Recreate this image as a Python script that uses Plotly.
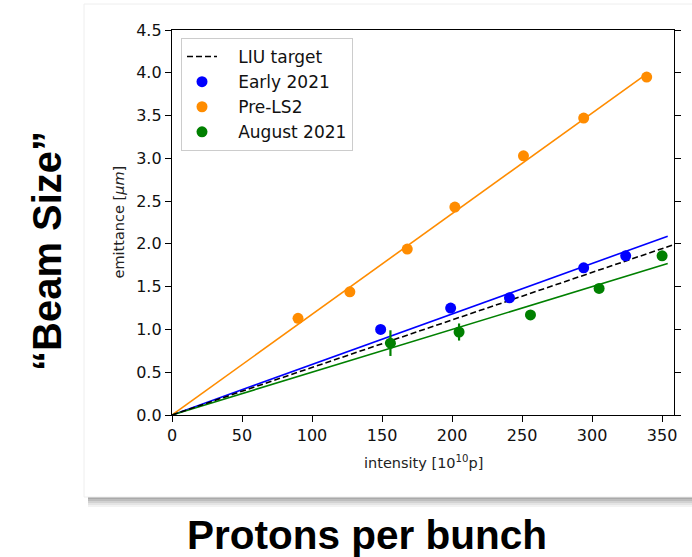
import plotly.graph_objects as go

# ---- data ----
early_x = [149, 199, 241, 294, 324]
early_y = [1.00, 1.25, 1.37, 1.72, 1.86]
early_err = [0.03, 0.03, 0.03, 0.03, 0.03]

prels2_x = [90, 127, 168, 202, 251, 294, 339]
prels2_y = [1.13, 1.44, 1.94, 2.43, 3.03, 3.47, 3.95]
prels2_err = [0.03, 0.03, 0.03, 0.03, 0.03, 0.03, 0.03]

aug_x = [156, 205, 256, 305, 350]
aug_y = [0.84, 0.97, 1.17, 1.48, 1.86]
aug_err = [0.15, 0.10, 0.03, 0.03, 0.03]

# fitted lines (end points)
early_fit_x = [0, 354]
early_fit_y = [0, 2.09]
prels2_fit_x = [0, 340]
prels2_fit_y = [0, 4.00]
aug_fit_x = [0, 354]
aug_fit_y = [0, 1.77]
liu_x = [0, 360]
liu_y = [0, 2.00]

x_ticks = [0, 50, 100, 150, 200, 250, 300, 350]
y_ticks = [0.0, 0.5, 1.0, 1.5, 2.0, 2.5, 3.0, 3.5, 4.0, 4.5]

BLUE = "#0000ff"
ORANGE = "#ff8c00"
GREEN = "#008000"
FONT = "DejaVu Sans"
PAD = "\u00a0\u00a0\u00a0"

# plot area in pixels
L, R, T, B = 172, 674, 30, 415
W, H = 692, 557


def px(x):
    return (x - L) / (R - L)


def py(y):
    return (B - y) / (B - T)


fig = go.Figure()

# fit lines
for fx, fy, c in [(early_fit_x, early_fit_y, BLUE),
                  (prels2_fit_x, prels2_fit_y, ORANGE),
                  (aug_fit_x, aug_fit_y, GREEN)]:
    fig.add_trace(go.Scatter(x=fx, y=fy, mode="lines", line=dict(color=c, width=1.6),
                             showlegend=False, hoverinfo="skip"))

fig.add_trace(go.Scatter(x=liu_x, y=liu_y, mode="lines", name=PAD + "LIU target",
                         line=dict(color="black", width=1.6, dash="6px,3px"),
                         legendrank=1))

for name, xs, ys, es, c, rank in [("Early 2021", early_x, early_y, early_err, BLUE, 2),
                                  ("Pre-LS2", prels2_x, prels2_y, prels2_err, ORANGE, 3),
                                  ("August 2021", aug_x, aug_y, aug_err, GREEN, 4)]:
    fig.add_trace(go.Scatter(
        x=xs, y=ys, mode="markers", name=PAD + name,
        marker=dict(color=c, size=11, line=dict(width=0)),
        error_y=dict(type="data", array=es, visible=True, color=c, thickness=2.2, width=0),
        legendrank=rank))

shapes = []
# slide picture box with a soft shadow below
shadow = ["#a9a9a9", "#bdbdbd", "#d2d2d2", "#e4e4e4", "#f2f2f2"]
for i, col in enumerate(shadow):
    shapes.append(dict(type="rect", xref="paper", yref="paper",
                       x0=px(88), x1=px(720), y0=py(497 + 2 * (i + 1)), y1=py(497 + 2 * i),
                       fillcolor=col, line=dict(width=0), layer="below"))
shapes.append(dict(type="rect", xref="paper", yref="paper",
                   x0=px(84), x1=px(720), y0=py(497), y1=py(4),
                   fillcolor="white", line=dict(color="#eeeeee", width=1), layer="below"))

annotations = [
    dict(text="intensity [10<sup>10</sup>p]", xref="paper", yref="paper",
         x=0.5, y=py(462), xanchor="center", yanchor="middle", showarrow=False,
         font=dict(family=FONT, size=14.5, color="#222222")),
    dict(text="emittance [<i>μm</i>]", xref="paper", yref="paper",
         x=px(118), y=0.5, xanchor="center", yanchor="middle", showarrow=False,
         textangle=-90, font=dict(family=FONT, size=14.5, color="#222222")),
    dict(text="<b>Protons per bunch</b>", xref="paper", yref="paper",
         x=px(367), y=py(535), xanchor="center", yanchor="middle", showarrow=False,
         font=dict(family="Liberation Sans", size=40.5, color="black")),
    dict(text="<b>“Beam Size”</b>", xref="paper", yref="paper",
         x=px(47), y=py(251), xanchor="center", yanchor="middle", showarrow=False,
         textangle=-90, font=dict(family="Liberation Sans", size=40, color="black")),
]

fig.update_layout(
    width=W, height=H,
    margin=dict(l=L, r=W - R, t=T, b=H - B, pad=0),
    paper_bgcolor="white", plot_bgcolor="rgba(0,0,0,0)",
    shapes=shapes, annotations=annotations,
    showlegend=True,
    legend=dict(x=px(181), y=py(38), xanchor="left", yanchor="top",
                bgcolor="rgba(255,255,255,0.85)", bordercolor="#cccccc", borderwidth=1,
                font=dict(family=FONT, size=17, color="#111111"),
                traceorder="normal", itemwidth=30, tracegroupgap=1),
    font=dict(family=FONT, color="#111111"),
)

fig.update_xaxes(range=[0, 358.5], tickmode="array", tickvals=x_ticks,
                 ticktext=[str(v) for v in x_ticks],
                 showgrid=False, zeroline=False, showline=True, linecolor="black",
                 linewidth=1.3, mirror=True, ticks="outside", ticklen=6, tickwidth=1.2,
                 tickcolor="black", tickfont=dict(family=FONT, size=16, color="#111111"))
fig.update_yaxes(range=[0, 4.5], tickmode="array", tickvals=y_ticks,
                 ticktext=[f"{v:.1f}" for v in y_ticks],
                 showgrid=False, zeroline=False, showline=True, linecolor="black",
                 linewidth=1.3, mirror="ticks", ticks="outside", ticklen=6, tickwidth=1.2,
                 tickcolor="black", tickfont=dict(family=FONT, size=16, color="#111111"))

fig.write_html("out.html", config={"displayModeBar": False},
               post_script="document.body.style.margin='0';document.body.style.overflow='hidden';")
